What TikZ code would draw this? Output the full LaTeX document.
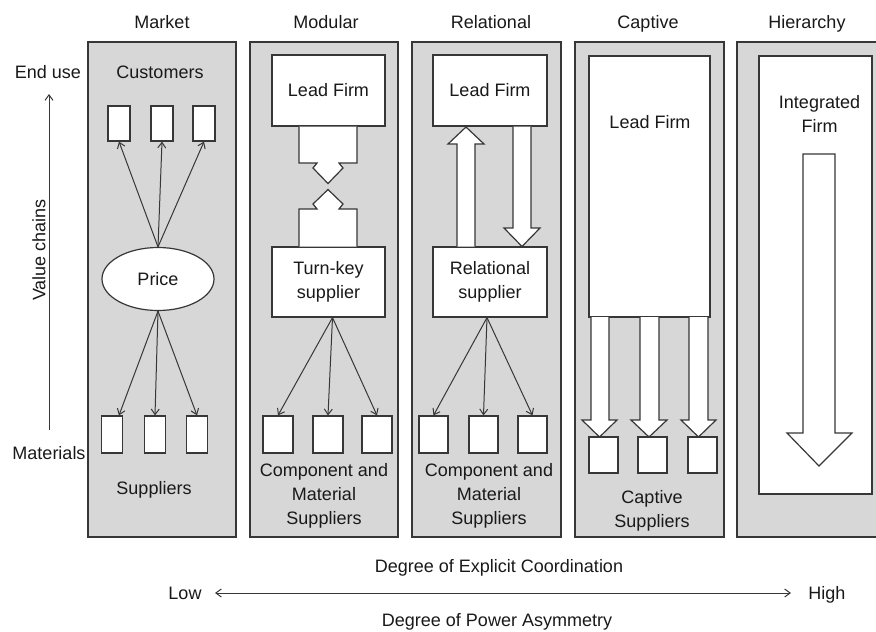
\documentclass[tikz,border=0pt]{standalone}
\usepackage{fontspec}
\setmainfont{Liberation Sans}
\usetikzlibrary{arrows.meta,shapes.geometric,calc}
\definecolor{panelgray}{RGB}{215,215,215}
\definecolor{linegray}{RGB}{55,55,55}
\definecolor{txtgray}{RGB}{25,25,25}
\tikzset{
  panel/.style={draw=linegray,fill=panelgray,line width=1.2pt,inner sep=0pt},
  wbox/.style={draw=linegray,fill=white,line width=1.2pt,inner sep=0pt},
  lbl/.style={font=\fontsize{18}{24}\selectfont,text=txtgray,align=center,inner sep=0pt},
  bl/.style={lbl,anchor=base},
  arr/.style={draw=linegray,line width=1pt,-{Straight Barb[length=5.5pt,width=8pt,line width=1pt]}},
  dblarr/.style={draw=linegray,line width=1pt,{Straight Barb[length=5.5pt,width=8pt,line width=1pt]}-{Straight Barb[length=5.5pt,width=8pt,line width=1pt]}},
  blk/.style={draw=linegray,fill=white,line width=1.2pt,line join=miter}
}
\begin{document}
\begin{tikzpicture}[x=1pt,y=-1pt]
\useasboundingbox (0,0) rectangle (876,632);
\clip (0,0) rectangle (876,632);

% panels
\node[panel,minimum width=148pt,minimum height=495pt] (p1) at (162,289.5) {};
\node[panel,minimum width=148pt,minimum height=495pt] (p2) at (324,289.5) {};
\node[panel,minimum width=149pt,minimum height=495pt] (p3) at (486.5,289.5) {};
\node[panel,minimum width=149pt,minimum height=495pt] (p4) at (649.5,289.5) {};
\node[panel,minimum width=149pt,minimum height=495pt] (p5) at (811.5,289.5) {};

% titles
\node[bl] (t1) at (162,28.5) {Market};
\node[bl] (t2) at (326,28.5) {Modular};
\node[bl] (t3) at (491,28.5) {Relational};
\node[bl] (t4) at (648,28.5) {Captive};
\node[bl] (t5) at (807,28.5) {Hierarchy};

% left axis
\node[bl] (enduse) at (48,78.5) {End use};
\node[bl] (materials) at (49,459.5) {Materials};
\node[lbl,rotate=90] (vchains) at (39,250) {Value chains};
\coordinate (axb) at (49,430);
\coordinate (axt) at (49,94);
\draw[arr] (axb) -- (axt);

% ---------- Market ----------
\node[bl] (customers) at (160,78.5) {Customers};
\node[wbox,minimum width=22pt,minimum height=35pt] (c1) at (119,123.5) {};
\node[wbox,minimum width=22pt,minimum height=35pt] (c2) at (162,123.5) {};
\node[wbox,minimum width=22pt,minimum height=35pt] (c3) at (204,123.5) {};
\node[wbox,ellipse,minimum width=112pt,minimum height=63pt,font=\fontsize{18}{24}\selectfont,text=txtgray] (price) at (158,279) {Price};
\node[wbox,minimum width=21pt,minimum height=37pt] (s1) at (112,434.5) {};
\node[wbox,minimum width=21pt,minimum height=37pt] (s2) at (155,434.5) {};
\node[wbox,minimum width=21pt,minimum height=37pt] (s3) at (197,434.5) {};
\draw[arr] (price.north) -- (c1.south);
\draw[arr] (price.north) -- (c2.south);
\draw[arr] (price.north) -- (c3.south);
\draw[arr] (price.south) -- (s1.70);
\draw[arr] (price.south) -- (s2.north);
\draw[arr] (price.south) -- (s3.north);
\node[bl] (suppliers) at (154,494.5) {Suppliers};

% ---------- Modular ----------
\node[wbox,minimum width=113pt,minimum height=71pt,font=\fontsize{18}{24}\selectfont,text=txtgray] (mlead) at (328.5,90.5) {Lead Firm};
\node[wbox,minimum width=113pt,minimum height=70pt,font=\fontsize{18}{24}\selectfont,text=txtgray,align=center] (mtk) at (328.5,282) {Turn-key\\supplier};
\draw[blk] (299,126.5) -- (299,163) -- (317,163) -- (313,168) -- (328,183.5) -- (343,168) -- (339,163) -- (357,163) -- (357,126.5);
\draw[blk] (299,246.5) -- (299,209) -- (317,209) -- (313,204) -- (328,189.5) -- (343,204) -- (339,209) -- (357,209) -- (357,246.5);
\node[wbox,minimum width=30pt,minimum height=37pt] (m1) at (278,434.5) {};
\node[wbox,minimum width=30pt,minimum height=37pt] (m2) at (328,434.5) {};
\node[wbox,minimum width=30pt,minimum height=37pt] (m3) at (377,434.5) {};
\draw[arr] ([xshift=4pt]mtk.south) -- (m1.north);
\draw[arr] ([xshift=4pt]mtk.south) -- (m2.north);
\draw[arr] ([xshift=4pt]mtk.south) -- (m3.north);
\node[lbl] (mtext) at (324,496) {Component and\\Material\\Suppliers};

% ---------- Relational ----------
\node[wbox,minimum width=114pt,minimum height=71pt,font=\fontsize{18}{24}\selectfont,text=txtgray] (rlead) at (490,90.5) {Lead Firm};
\node[wbox,minimum width=114pt,minimum height=70pt,font=\fontsize{18}{24}\selectfont,text=txtgray,align=center] (rsup) at (490,282) {Relational\\supplier};
\draw[blk] (457,246.5) -- (457,144) -- (448,144) -- (466,127) -- (484,144) -- (475,144) -- (475,246.5);
\draw[blk] (513,126.5) -- (513,228) -- (504,228) -- (522,246.5) -- (540,228) -- (531,228) -- (531,126.5);
\node[wbox,minimum width=29pt,minimum height=37pt] (r1) at (433.5,434.5) {};
\node[wbox,minimum width=29pt,minimum height=37pt] (r2) at (483.5,434.5) {};
\node[wbox,minimum width=29pt,minimum height=37pt] (r3) at (532.5,434.5) {};
\draw[arr] ([xshift=-3pt]rsup.south) -- (r1.north);
\draw[arr] ([xshift=-3pt]rsup.south) -- (r2.north);
\draw[arr] ([xshift=-3pt]rsup.south) -- (r3.north);
\node[lbl] (rtext) at (489,496) {Component and\\Material\\Suppliers};

% ---------- Captive ----------
\node[wbox,minimum width=121pt,minimum height=261pt] (clead) at (649.5,186.5) {};
\node[bl] (cleadtext) at (650,128.5) {Lead Firm};
\draw[blk] (591,317) -- (591,420) -- (582,420) -- (599.5,437) -- (617,420) -- (609,420) -- (609,317);
\draw[blk] (640,317) -- (640,420) -- (631,420) -- (649,437) -- (667,420) -- (659,420) -- (659,317);
\draw[blk] (689,317) -- (689,420) -- (681,420) -- (698.5,437) -- (716,420) -- (708,420) -- (708,317);
\node[wbox,minimum width=29pt,minimum height=36pt] (k1) at (603.5,455) {};
\node[wbox,minimum width=29pt,minimum height=36pt] (k2) at (652.5,455) {};
\node[wbox,minimum width=29pt,minimum height=36pt] (k3) at (702.5,455) {};
\node[lbl] (ctext) at (652,510.5) {Captive\\Suppliers};

% ---------- Hierarchy ----------
\node[wbox,minimum width=113pt,minimum height=438pt] (hfirm) at (815.5,275) {};
\node[lbl] (htext) at (819.5,114) {Integrated\\Firm};
\draw[blk] (803,154) -- (803,433) -- (787,433) -- (819,466) -- (852,433) -- (835,433) -- (835,154) -- cycle;

% ---------- bottom axis ----------
\node[bl] (coord) at (499,572.5) {Degree of Explicit Coordination};
\node[bl] (low) at (185,599.5) {Low};
\node[bl] (high) at (827,599.5) {High};
\node[bl] (power) at (497,626.5) {Degree of Power Asymmetry};
\coordinate (lowend) at (215,593);
\coordinate (highend) at (791,593);
\draw[dblarr] (lowend) -- (highend);
\end{tikzpicture}
\end{document}
